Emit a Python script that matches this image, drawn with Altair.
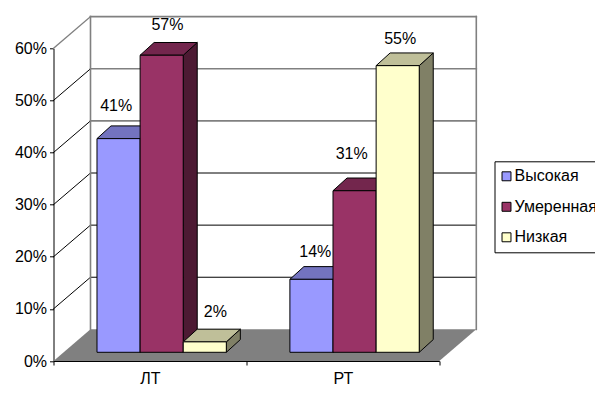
import altair as alt
import pandas as pd

# Percent values by group and rating
categories = ["ЛТ", "РТ"]
series_names = ["Высокая", "Умеренная", "Низкая"]
high_values = [41, 14]
moderate_values = [57, 31]
low_values = [2, 55]
y_ticks = [0, 10, 20, 30, 40, 50, 60]

FONT = "Liberation Sans"
FRONT = {"Высокая": "#9999FF", "Умеренная": "#993366", "Низкая": "#FFFFCC"}
TOP = {"Высокая": "#7373BF", "Умеренная": "#73264D", "Низкая": "#BFBF99"}
SIDE = {"Высокая": "#4D4D80", "Умеренная": "#4D1A33", "Низкая": "#808066"}

# Oblique projection, in axis units (x: one group = 1, y: percent)
WALL_DX, WALL_DY = 0.1918, 6.07
BAR_DX, BAR_DY = 0.0726, 2.44
BAR_BASE = 1.67
BAR_START = 0.2255
BAR_WIDTH = 0.2235

# Hand placement of the value captions, in axis units
CAPTION_NUDGE = {
    ("ЛТ", "Высокая"): (-0.012, 6.2),
    ("ЛТ", "Умеренная"): (0.03, 5.8),
    ("ЛТ", "Низкая"): (0.055, 5.7),
    ("РТ", "Высокая"): (0.02, 5.3),
    ("РТ", "Умеренная"): (-0.015, 7.1),
    ("РТ", "Низкая"): (0.013, 5.2),
}

X = alt.Scale(domain=[0, 2], nice=False, zero=False)
Y = alt.Scale(domain=[0, 60], nice=False, zero=False)

series_values = dict(zip(series_names, [high_values, moderate_values, low_values]))
fronts, tops, sides, captions = [], [], [], []
for c, cat in enumerate(categories):
    for s, name in enumerate(series_names):
        v = series_values[name][c]
        x0 = c + BAR_START + s * BAR_WIDTH
        x1 = x0 + BAR_WIDTH
        lo, hi = BAR_BASE, BAR_BASE + v
        key = f"{cat}-{name}"
        fronts.append({"x": x0, "x2": x1, "y": lo, "y2": hi, "series": name})
        tops += [
            {"id": key, "y": hi, "x": x0, "x2": x1, "fill": TOP[name]},
            {"id": key, "y": hi + BAR_DY, "x": x0 + BAR_DX, "x2": x1 + BAR_DX, "fill": TOP[name]},
        ]
        sides += [
            {"id": key, "x": x1, "y": lo, "y2": hi, "fill": SIDE[name]},
            {"id": key, "x": x1 + BAR_DX, "y": lo + BAR_DY, "y2": hi + BAR_DY, "fill": SIDE[name]},
        ]
        nx, ny = CAPTION_NUDGE[(cat, name)]
        captions.append({"x": (x0 + x1) / 2 + nx, "y": hi + ny, "text": f"{v}%"})

GRAY, BLACK = "#808080", "#000000"
lines = []


def add_line(key, p, q, color, width):
    for order, (px, py) in enumerate((p, q)):
        lines.append({"id": key, "x": px, "y": py, "o": order, "color": color, "w": width})


for t in y_ticks:
    upper = t >= 40
    color, width = (GRAY, 1.6) if upper else (BLACK, 1)
    if t > 0:
        add_line(f"back{t}", (WALL_DX, t + WALL_DY), (2 + WALL_DX, t + WALL_DY), color, width)
        add_line(f"left{t}", (0, t), (WALL_DX, t + WALL_DY), GRAY if t == 60 else BLACK, 1.2 if t == 60 else 1)
add_line("corner-l", (WALL_DX, WALL_DY), (WALL_DX, 60 + WALL_DY), GRAY, 1.6)
add_line("corner-r", (2 + WALL_DX, WALL_DY), (2 + WALL_DX, 60 + WALL_DY), GRAY, 1.6)

floor = pd.DataFrame(
    [
        {"y": 0, "x": 0, "x2": 2},
        {"y": WALL_DY, "x": WALL_DX, "x2": 2 + WALL_DX},
    ]
)

floor_layer = (
    alt.Chart(floor)
    .mark_area(orient="horizontal", fill=GRAY)
    .encode(
        y=alt.Y(
            "y:Q",
            scale=Y,
            title=None,
            axis=alt.Axis(
                values=y_ticks,
                labelExpr="datum.value + '%'",
                grid=False,
                tickSize=4,
                tickColor="black",
                domainColor="black",
                labelColor="black",
                labelFont=FONT,
                labelFontSize=16,
                labelPadding=3,
            ),
        ),
        x=alt.X(
            "x:Q",
            scale=X,
            title=None,
            axis=alt.Axis(
                orient="bottom",
                values=[0, 1, 2],
                labels=False,
                grid=False,
                tickSize=4,
                tickColor="black",
                domainColor="black",
            ),
        ),
        x2="x2:Q",
    )
)

line_layer = (
    alt.Chart(pd.DataFrame(lines))
    .mark_line(strokeCap="square")
    .encode(
        x=alt.X("x:Q", scale=X, axis=None),
        y=alt.Y("y:Q", scale=Y, axis=None),
        detail="id:N",
        order="o:Q",
        stroke=alt.Stroke("color:N", scale=None),
        strokeWidth=alt.StrokeWidth("w:Q", scale=None),
    )
)

side_layer = (
    alt.Chart(pd.DataFrame(sides))
    .mark_area(orient="vertical", stroke="black", strokeWidth=1)
    .encode(
        x=alt.X("x:Q", scale=X, axis=None),
        y=alt.Y("y:Q", scale=Y, axis=None),
        y2="y2:Q",
        detail="id:N",
        fill=alt.Fill("fill:N", scale=None),
    )
)

top_layer = (
    alt.Chart(pd.DataFrame(tops))
    .mark_area(orient="horizontal", stroke="black", strokeWidth=1)
    .encode(
        y=alt.Y("y:Q", scale=Y, axis=None),
        x=alt.X("x:Q", scale=X, axis=None),
        x2="x2:Q",
        detail="id:N",
        fill=alt.Fill("fill:N", scale=None),
    )
)

front_layer = (
    alt.Chart(pd.DataFrame(fronts))
    .mark_rect(stroke="black", strokeWidth=1)
    .encode(
        x=alt.X("x:Q", scale=X, axis=None),
        x2="x2:Q",
        y=alt.Y("y:Q", scale=Y, axis=None),
        y2="y2:Q",
        color=alt.Color(
            "series:N",
            scale=alt.Scale(domain=series_names, range=[FRONT[n] for n in series_names]),
            title=None,
            legend=alt.Legend(
                orient="none",
                legendX=441,
                legendY=113,
                symbolType="square",
                symbolSize=80,
                symbolStrokeWidth=1,
                symbolOpacity=1,
                symbolOffset=-3,
                labelFont=FONT,
                labelFontSize=16,
                labelColor="black",
                labelLimit=200,
                rowPadding=14.5,
                labelOffset=0,
                padding=7,
                strokeColor="black",
                fillColor="white",
            ),
        ),
    )
)

caption_layer = (
    alt.Chart(pd.DataFrame(captions))
    .mark_text(font=FONT, fontSize=16, color="black", align="center", baseline="middle")
    .encode(
        x=alt.X("x:Q", scale=X, axis=None),
        y=alt.Y("y:Q", scale=Y, axis=None),
        text="text:N",
    )
)

# Group names sit midway between the ticks, so they get an axis of their own
group_axis_layer = (
    alt.Chart(pd.DataFrame({"x": [0.5, 1.5], "name": categories}))
    .mark_point(opacity=0)
    .encode(
        x=alt.X(
            "x:Q",
            scale=X,
            title=None,
            axis=alt.Axis(
                orient="bottom",
                values=[0.5, 1.5],
                labelExpr="datum.value < 1 ? 'ЛТ' : 'РТ'",
                domain=False,
                ticks=False,
                grid=False,
                labelColor="black",
                labelFont=FONT,
                labelFontSize=16,
                labelPadding=9,
            ),
        ),
        y=alt.value(0),
    )
)

chart = (
    alt.layer(
        floor_layer,
        line_layer,
        side_layer,
        top_layer,
        front_layer,
        caption_layer,
        group_axis_layer,
    )
    .resolve_axis(x="independent", y="independent")
    .properties(
        width=385.8,
        height=312.7,
        padding={"left": 53.5, "top": 48.3, "right": 155.7, "bottom": 33},
        autosize=alt.AutoSizeParams(type="none"),
        background="white",
    )
    .configure_view(stroke=None)
)

chart.save("out.html", embed_options={"renderer": "svg", "actions": False})
